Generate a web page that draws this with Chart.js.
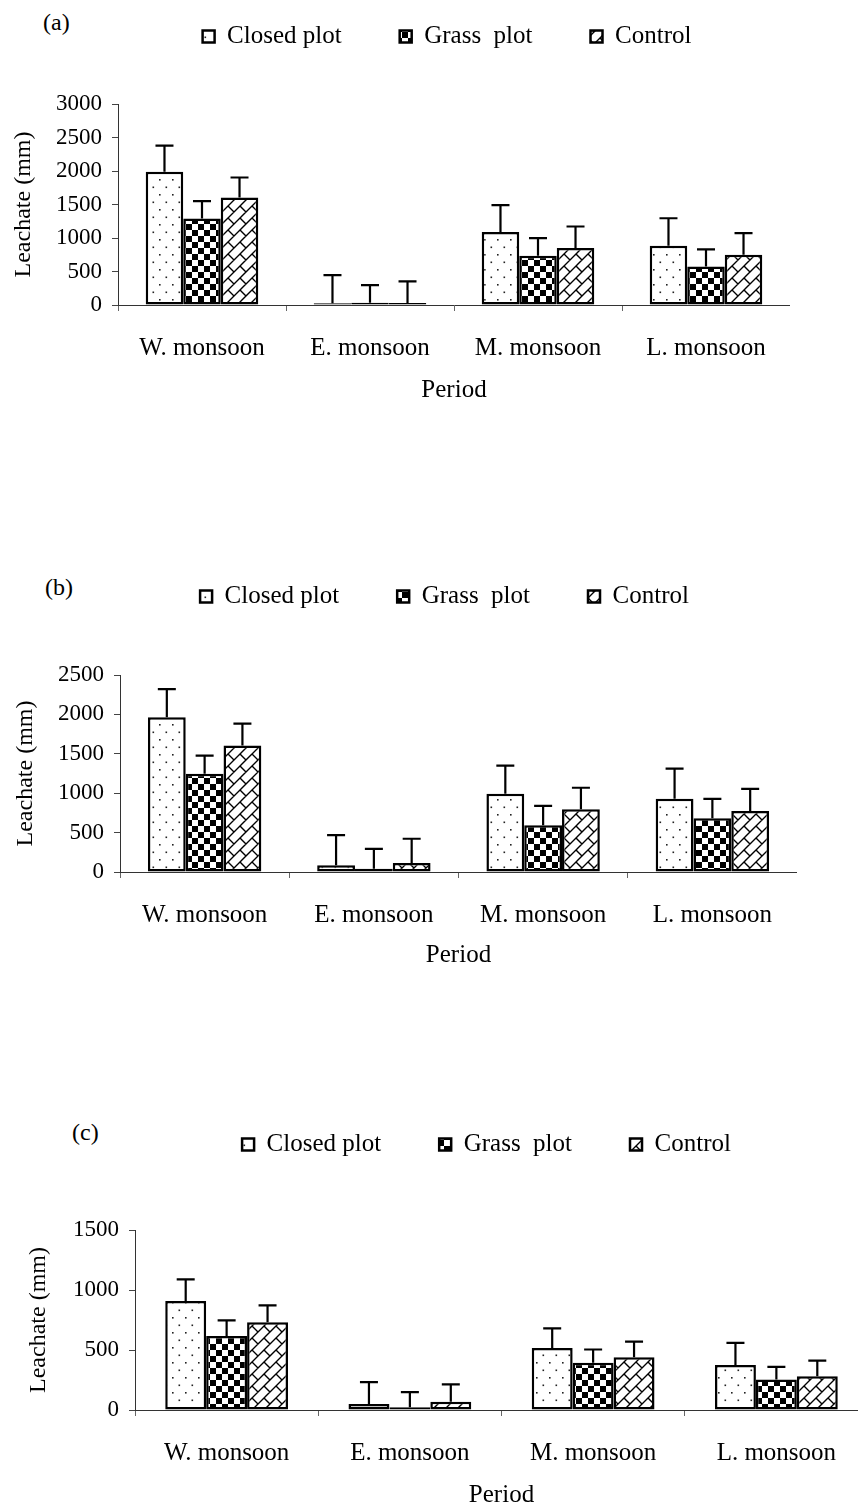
<!DOCTYPE html>
<html lang="en">
<head>
  <meta charset="UTF-8">
  <title>Leachate by period</title>
  <script src="https://cdn.jsdelivr.net/npm/chart.js"></script>
  <style>
    html, body { margin: 0; padding: 0; background: #fff; }
    #page { position: relative; width: 858px; height: 1508px; overflow: hidden; background: #fff; }
    canvas { position: absolute; left: 0; }
    .tag { position: absolute; font-family: "Liberation Serif", serif; font-size: 24px; line-height: 1; color: #000; }
  </style>
</head>
<body>
<div id="page">
  <span class="tag" style="left:43px; top:10px">(a)</span>
  <span class="tag" style="left:45px; top:575px">(b)</span>
  <span class="tag" style="left:72px; top:1120px">(c)</span>
  <canvas id="chartA" width="790" height="443" style="top:-34px"></canvas>
  <canvas id="chartB" width="797" height="448" style="top:526px"></canvas>
  <canvas id="chartC" width="868" height="440" style="top:1074px"></canvas>
</div>
<script>
  var periods = ['W. monsoon', 'E. monsoon', 'M. monsoon', 'L. monsoon'];
  var seriesNames = ['Closed plot', 'Grass  plot', 'Control'];

  // (a)
  var closedA = [1990, 25, 1090, 885];
  var grassA = [1290, 35, 735, 575];
  var controlA = [1605, 30, 850, 750];
  var closedErrA = [390, 420, 400, 410];
  var grassErrA = [260, 263, 263, 255];
  var controlErrA = [298, 323, 322, 323];
  var ticksA = { max: 3000, step: 500 };

  // (b)
  var closedB = [1963, 85, 992, 928];
  var grassB = [1248, 40, 592, 681];
  var controlB = [1606, 115, 796, 775];
  var closedErrB = [358, 383, 358, 384];
  var grassErrB = [230, 254, 247, 247];
  var controlErrB = [276, 307, 273, 281];
  var ticksB = { max: 2500, step: 500 };

  // (c)
  var closedC = [908, 50, 517, 374];
  var grassC = [617, 22, 393, 255];
  var controlC = [731, 69, 440, 282];
  var closedErrC = [180, 182, 164, 185];
  var grassErrC = [130, 127, 111, 105];
  var controlErrC = [141, 144, 130, 130];
  var ticksC = { max: 1500, step: 500 };

  Chart.defaults.font.family = '"Liberation Serif", "Times New Roman", serif';
  Chart.defaults.color = '#000';

  function tile(w, h, paint) {
    var c = document.createElement('canvas');
    c.width = w; c.height = h;
    var g = c.getContext('2d');
    g.fillStyle = '#fff';
    g.fillRect(0, 0, w, h);
    paint(g);
    return c;
  }

  function dots(ctx) {
    return ctx.createPattern(tile(13, 15, function (g) {
      g.fillStyle = '#222';
      g.fillRect(3, 3, 1.6, 1.6);
      g.fillRect(9.5, 10.5, 1.6, 1.6);
    }), 'repeat');
  }

  function checks(ctx) {
    return ctx.createPattern(tile(12, 12, function (g) {
      g.fillStyle = '#000';
      g.fillRect(0, 0, 6, 6);
      g.fillRect(6, 6, 6, 6);
    }), 'repeat');
  }

  function bricks(ctx) {
    return ctx.createPattern(tile(24, 24, function (g) {
      g.strokeStyle = '#000';
      g.lineWidth = 1.4;
      g.beginPath();
      [0, 12, 24, 36, 48].forEach(function (c) {
        g.moveTo(c + 6, -6);
        g.lineTo(-6, c + 6);
      });
      // short connectors, staggered between strips
      [0, 12, 24, 36].forEach(function (c, k) {
        var ds = k % 2 === 0 ? [-24, 0, 24] : [-36, -12, 12, 36];
        ds.forEach(function (d) {
          g.moveTo((c + d) / 2, (c - d) / 2);
          g.lineTo((c + 12 + d) / 2, (c + 12 - d) / 2);
        });
      });
      g.stroke();
    }), 'repeat');
  }

  var errorBars = {
    id: 'errorBars',
    afterDatasetsDraw: function (chart) {
      var ctx = chart.ctx;
      var y = chart.scales.y;
      ctx.save();
      ctx.strokeStyle = '#000';
      ctx.lineWidth = 2.2;
      chart.data.datasets.forEach(function (ds, i) {
        var meta = chart.getDatasetMeta(i);
        meta.data.forEach(function (bar, j) {
          var top = y.getPixelForValue(ds.data[j] + ds.errors[j]);
          ctx.beginPath();
          ctx.moveTo(bar.x, bar.y);
          ctx.lineTo(bar.x, top);
          ctx.moveTo(bar.x - 9, top);
          ctx.lineTo(bar.x + 9, top);
          ctx.stroke();
        });
      });
      ctx.restore();
    }
  };

  function panel(id, closed, grass, control, eClosed, eGrass, eControl, yt, L) {
    var canvas = document.getElementById(id);
    var ctx = canvas.getContext('2d');
    var fills = [dots(ctx), checks(ctx), bricks(ctx)];
    var values = [closed, grass, control];
    var errs = [eClosed, eGrass, eControl];

    var legendBox = {
      id: 'legendBox',
      beforeLayout: function (chart) {
        if (chart.legend && !chart.legend._fixed) {
          var fit = chart.legend.fit;
          chart.legend.fit = function () {
            fit.call(this);
            this.height = L.legendH;
          };
          chart.legend._fixed = true;
        }
      },
      afterLayout: function (chart) {
        chart.legend.left += L.shift;
        chart.legend.right += L.shift;
      }
    };

    return new Chart(ctx, {
      type: 'bar',
      data: {
        labels: periods,
        datasets: seriesNames.map(function (name, i) {
          return {
            label: name,
            data: values[i],
            errors: errs[i],
            backgroundColor: fills[i],
            borderColor: '#000',
            borderWidth: 2.5,
            borderSkipped: false,
            categoryPercentage: 0.67,
            barPercentage: 1.0
          };
        })
      },
      options: {
        responsive: false,
        animation: false,
        layout: { padding: { left: L.padLeft, right: 0, top: 0, bottom: 0 } },
        plugins: {
          legend: {
            position: 'top',
            fullSize: false,
            labels: {
              font: { size: 25 },
              color: '#000',
              boxWidth: 12,
              boxHeight: 12,
              padding: 58
            }
          },
          tooltip: { enabled: false }
        },
        scales: {
          x: {
            grid: { offset: true, drawOnChartArea: false, tickLength: 6, color: '#666' },
            border: { color: '#333', width: 1 },
            ticks: { font: { size: 25 }, color: '#000', padding: 22, maxRotation: 0 },
            title: { display: true, text: 'Period', font: { size: 25 }, color: '#000' },
            afterFit: function (s) { s.height = L.axisH; }
          },
          y: {
            min: 0,
            max: yt.max,
            ticks: {
              stepSize: yt.step,
              font: { size: 23 },
              color: '#000',
              padding: 10,
              callback: function (v) { return String(v); }
            },
            grid: { drawOnChartArea: false, tickLength: 6, color: '#444' },
            border: { color: '#333', width: 1 },
            title: { display: true, text: 'Leachate (mm)', font: { size: 24 }, color: '#000' },
            afterFit: function (s) { s.width = L.axisW; }
          }
        }
      },
      plugins: [legendBox, errorBars]
    });
  }

  panel('chartA', closedA, grassA, controlA, closedErrA, grassErrA, controlErrA, ticksA,
    { legendH: 138, axisH: 104, padLeft: 5, axisW: 113, shift: -7 });
  panel('chartB', closedB, grassB, controlB, closedErrB, grassErrB, controlErrB, ticksB,
    { legendH: 149, axisH: 102, padLeft: 7, axisW: 113, shift: -14 });
  panel('chartC', closedC, grassC, controlC, closedErrC, grassErrC, controlErrC, ticksC,
    { legendH: 156, axisH: 104, padLeft: 20, axisW: 115, shift: -15 });
</script>
</body>
</html>
